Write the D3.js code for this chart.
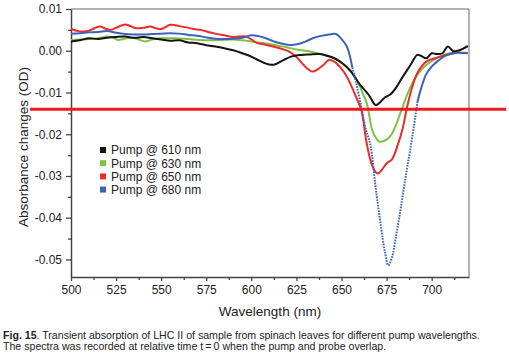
<!DOCTYPE html>
<html>
<head>
<meta charset="utf-8">
<script src="https://cdn.jsdelivr.net/npm/d3@7"></script>
<style>
  html, body { margin: 0; padding: 0; background: #fff; }
  svg { display: block; font-family: "Liberation Sans", Arial, sans-serif; }
</style>
</head>
<body>
<svg id="chart" width="509" height="359"></svg>
<script>
// wavelength (nm) / absorbance change (OD) pairs
const pump610 = [
  [500, 0.0022], [505, 0.0025], [510, 0.0030], [515, 0.0028], [520, 0.0031], [525, 0.0033],
  [530, 0.0034], [535, 0.0031], [540, 0.0033], [545, 0.0030], [550, 0.0027], [555, 0.0024],
  [560, 0.0025], [565, 0.0020], [570, 0.0018], [575, 0.0013], [580, 0.0010], [585, 0.0006],
  [590, 0.0001], [595, -0.0006], [600, -0.0014], [605, -0.0025], [610, -0.0033], [613, -0.0033],
  [618, -0.0022], [622, -0.0014], [628, -0.0010], [632, -0.0009], [638, -0.0008], [642, -0.0012],
  [646, -0.0018], [650, -0.0028], [655, -0.0048], [660, -0.0080], [665, -0.0105], [669, -0.0130],
  [671, -0.0125], [674, -0.0112], [677, -0.0105], [680, -0.0090], [684, -0.0062], [688, -0.0036],
  [692, -0.0010], [694, -0.0012], [697, -0.0018], [700, -0.0006], [703, -0.0008], [706, -0.0006],
  [709, 0.0010], [712, -0.0001], [716, 0.0002], [720, 0.0012]
];
const pump630 = [
  [500, 0.0026], [505, 0.0027], [510, 0.0028], [515, 0.0030], [520, 0.0034], [523, 0.0032],
  [526, 0.0026], [529, 0.0028], [533, 0.0031], [537, 0.0028], [541, 0.0022], [545, 0.0027],
  [549, 0.0030], [553, 0.0030], [558, 0.0030], [565, 0.0028], [571, 0.0026], [578, 0.0025],
  [584, 0.0026], [590, 0.0027], [595, 0.0025], [600, 0.0022], [607, 0.0018], [615, 0.0012],
  [620, 0.0008], [625, 0.0003], [630, 0.0000], [635, -0.0004], [640, -0.0009], [645, -0.0016],
  [649, -0.0026], [653, -0.0040], [656, -0.0055], [659, -0.0074], [662, -0.0105], [664, -0.0125],
  [667, -0.0190], [669, -0.0208], [671, -0.0218], [674, -0.0215], [677, -0.0205], [680, -0.0180],
  [683, -0.0145], [686, -0.0110], [689, -0.0080], [692, -0.0058], [696, -0.0038], [701, -0.0022],
  [705, -0.0013], [710, -0.0006], [715, -0.0005], [720, -0.0005]
];
const pump650 = [
  [500, 0.0052], [504, 0.0047], [507, 0.0046], [510, 0.0048], [513, 0.0054], [516, 0.0058],
  [519, 0.0053], [522, 0.0050], [526, 0.0057], [530, 0.0063], [533, 0.0059], [536, 0.0054],
  [540, 0.0055], [544, 0.0058], [547, 0.0054], [550, 0.0052], [555, 0.0062], [560, 0.0059],
  [564, 0.0056], [568, 0.0052], [572, 0.0050], [576, 0.0045], [580, 0.0041], [585, 0.0037],
  [590, 0.0033], [593, 0.0034], [597, 0.0034], [600, 0.0027], [603, 0.0019], [608, 0.0014],
  [612, 0.0010], [617, 0.0004], [621, -0.0002], [625, -0.0015], [629, -0.0034], [632, -0.0046],
  [634, -0.0050], [637, -0.0044], [640, -0.0034], [643, -0.0022], [646, -0.0026], [649, -0.0038],
  [652, -0.0055], [655, -0.0080], [658, -0.0110], [661, -0.0142], [664, -0.0222], [667, -0.0275],
  [670, -0.0294], [672, -0.0287], [675, -0.0270], [678, -0.0260], [681, -0.0228], [684, -0.0185],
  [686, -0.0142], [689, -0.0090], [692, -0.0054], [697, -0.0026], [705, -0.0014], [712, -0.0006],
  [716, 0.0002], [720, 0.0010]
];
const pump680 = [
  [500, 0.0041], [505, 0.0042], [510, 0.0044], [515, 0.0045], [520, 0.0047], [525, 0.0043],
  [530, 0.0040], [535, 0.0039], [540, 0.0039], [545, 0.0040], [550, 0.0041], [555, 0.0042],
  [560, 0.0041], [565, 0.0038], [570, 0.0036], [575, 0.0032], [580, 0.0029], [585, 0.0028],
  [590, 0.0029], [595, 0.0031], [600, 0.0037], [604, 0.0035], [608, 0.0030], [612, 0.0023],
  [616, 0.0018], [621, 0.0014], [626, 0.0016], [630, 0.0022], [634, 0.0030], [638, 0.0035],
  [643, 0.0039], [647, 0.0040], [650, 0.0028], [653, 0.0010], [656, -0.0040], [658, -0.0075],
  [661, -0.0135], [663, -0.0180], [666, -0.0225], [669, -0.0330], [672, -0.0425], [674, -0.0480],
  [676, -0.0514], [678, -0.0495], [680, -0.0450], [682, -0.0400], [684, -0.0345], [686, -0.0290],
  [688, -0.0240], [690, -0.0185], [692, -0.0125], [694, -0.0092], [697, -0.0056], [700, -0.0038],
  [703, -0.0026], [708, -0.0011], [714, -0.0005], [720, -0.0006]
];

const seriesNames = ['Pump @ 610 nm', 'Pump @ 630 nm', 'Pump @ 650 nm', 'Pump @ 680 nm'];
const seriesColors = ['#141414', '#7cc243', '#ee2a2a', '#3b62b8'];
const seriesData = [pump610, pump630, pump650, pump680];

const xTicks = [500, 525, 550, 575, 600, 625, 650, 675, 700];
const yTicks = [0.01, 0.00, -0.01, -0.02, -0.03, -0.04, -0.05];
const xDomain = [500, 720.7];
const yDomain = [-0.0542, 0.01];
const markerLevel = -0.014;   // red horizontal marker
const dottedRange = [655, 693]; // part of the 680 nm scan drawn as separate dots

const axisColor = '#444';
const textColor = '#222';

const svg = d3.select('#chart');
const margin = { left: 71, top: 9, right: 40, bottom: 82 };
const width = 509, height = 359;

const x = d3.scaleLinear().domain(xDomain).range([margin.left, width - margin.right]);
const y = d3.scaleLinear().domain(yDomain).range([height - margin.bottom, margin.top]);

drawAxis();
drawLines();
drawLegend();
drawMarker();
drawCaption();

// axes and frame
function drawAxis() {
  const x0 = x.range()[0], x1 = x.range()[1];
  const y0 = y.range()[0], y1 = y.range()[1];

  // frame top / right
  svg.append('path')
    .attr('d', `M${x0},${y1} H${x1} V${y0}`)
    .attr('fill', 'none')
    .attr('stroke', '#666')
    .attr('stroke-width', 1);

  // minor ticks
  const xMinor = xTicks.map(d => d + 12.5).filter(d => d < xDomain[1]);
  const yMinor = yTicks.map(d => d + 0.005).filter(d => d < yDomain[1]);

  svg.append('g')
    .attr('transform', `translate(0 ${y0})`)
    .call(d3.axisBottom(x).tickValues(xMinor).tickSize(3).tickFormat(''))
    .call(g => g.select('.domain').remove())
    .selectAll('line').attr('stroke', axisColor).attr('stroke-width', 1.3);

  svg.append('g')
    .attr('transform', `translate(${x0} 0)`)
    .call(d3.axisLeft(y).tickValues(yMinor).tickSize(3).tickFormat(''))
    .call(g => g.select('.domain').remove())
    .selectAll('line').attr('stroke', axisColor).attr('stroke-width', 1.3);

  // x axis
  const xAxis = d3.axisBottom(x)
    .tickValues(xTicks)
    .tickSize(4)
    .tickSizeOuter(0)
    .tickPadding(4);
  const gx = svg.append('g')
    .attr('transform', `translate(0 ${y0})`)
    .call(xAxis);
  gx.select('.domain').attr('stroke', axisColor).attr('stroke-width', 1.5);
  gx.selectAll('line').attr('stroke', axisColor).attr('stroke-width', 1.3);
  gx.selectAll('text').attr('font-size', 12).attr('fill', textColor);

  // y axis
  const yAxis = d3.axisLeft(y)
    .tickValues(yTicks)
    .tickSize(5)
    .tickSizeOuter(0)
    .tickPadding(4)
    .tickFormat(d => d.toFixed(2));
  const gy = svg.append('g')
    .attr('transform', `translate(${x0} 0)`)
    .call(yAxis);
  gy.select('.domain').attr('stroke', axisColor).attr('stroke-width', 1.5);
  gy.selectAll('line').attr('stroke', axisColor).attr('stroke-width', 1.3);
  gy.selectAll('text').attr('font-size', 12).attr('fill', textColor);

  // titles
  svg.append('text')
    .attr('x', (x0 + x1) / 2)
    .attr('y', 316)
    .attr('text-anchor', 'middle')
    .attr('font-size', 13.5)
    .attr('fill', textColor)
    .text('Wavelength (nm)');

  svg.append('text')
    .attr('transform', `translate(27.5 ${147}) rotate(-90)`)
    .attr('text-anchor', 'middle')
    .attr('font-size', 13.5)
    .attr('fill', textColor)
    .text('Absorbance changes (OD)');
}

// spectra
function drawLines() {
  const line = d3.line()
    .x(d => x(d[0]))
    .y(d => y(d[1]))
    .curve(d3.curveCatmullRom);

  const g = svg.append('g');
  const order = [1, 2, 0, 3];
  order.forEach(i => {
    const data = seriesData[i];
    if (i === 3) {
      // 680 nm: solid outside the deep band, sparse dots inside
      g.append('path')
        .attr('d', line(data.filter(d => d[0] <= dottedRange[0] + 1)))
        .attr('fill', 'none').attr('stroke', seriesColors[i]).attr('stroke-width', 2);
      g.append('path')
        .attr('d', line(data.filter(d => d[0] >= dottedRange[1] - 1)))
        .attr('fill', 'none').attr('stroke', seriesColors[i]).attr('stroke-width', 2);
      g.append('path')
        .attr('d', line(data.filter(d => d[0] >= dottedRange[0] && d[0] <= dottedRange[1])))
        .attr('fill', 'none').attr('stroke', seriesColors[i]).attr('stroke-width', 2)
        .attr('stroke-dasharray', '1.6 1.2');
    } else {
      g.append('path')
        .attr('d', line(data))
        .attr('fill', 'none')
        .attr('stroke', seriesColors[i])
        .attr('stroke-width', 2)
        .attr('stroke-linejoin', 'round');
    }
  });
}

// legend
function drawLegend() {
  const lg = svg.append('g').attr('transform', 'translate(100 150)');
  const row = lg.selectAll('g').data(seriesNames).enter()
    .append('g')
    .attr('transform', (d, i) => `translate(0 ${i * 13.2})`);
  row.append('rect')
    .attr('x', 0).attr('y', -3)
    .attr('width', 6).attr('height', 6)
    .attr('fill', (d, i) => seriesColors[i]);
  row.append('text')
    .attr('x', 11).attr('y', 4.3)
    .attr('font-size', 12)
    .attr('fill', textColor)
    .text(d => d);
}

// red marker line across the figure
function drawMarker() {
  svg.append('line')
    .attr('x1', 30).attr('x2', 506)
    .attr('y1', y(markerLevel)).attr('y2', y(markerLevel))
    .attr('stroke', '#f01818')
    .attr('stroke-width', 3);
}

// figure caption
function drawCaption() {
  const t1 = svg.append('text')
    .attr('x', 3).attr('y', 339)
    .attr('font-size', 10.6)
    .attr('fill', '#222');
  t1.append('tspan').attr('font-weight', 'bold').text('Fig. 15');
  t1.append('tspan').text('. Transient absorption of LHC II of sample from spinach leaves for different pump wavelengths.');

  svg.append('text')
    .attr('x', 3).attr('y', 350)
    .attr('font-size', 10.6)
    .attr('fill', '#222')
    .text('The spectra was recorded at relative time t\u2009=\u20090 when the pump and probe overlap.');
}
</script>
</body>
</html>
